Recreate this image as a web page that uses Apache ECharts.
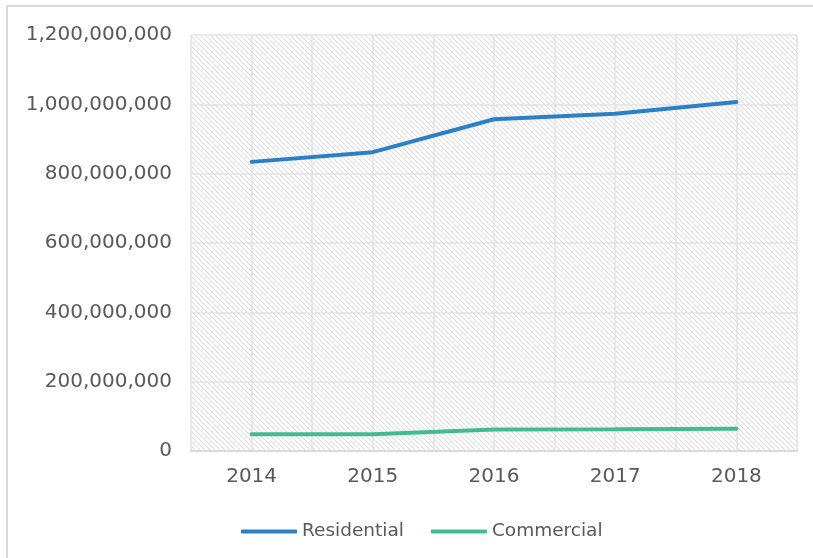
<!DOCTYPE html>
<html>
<head>
<meta charset="utf-8">
<script src="https://cdn.jsdelivr.net/npm/echarts@6/dist/echarts.min.js"></script>
<style>
  html, body { margin: 0; padding: 0; background: #fff; }
  #chart { width: 813px; height: 558px; }
</style>
</head>
<body>
<div id="chart"></div>
<script>
const years = ['2014', '2015', '2016', '2017', '2018']
const residential = [834000000, 862000000, 957000000, 973000000, 1007000000]
const commercial = [48000000, 48000000, 62000000, 62500000, 64000000]

const fontFamily = '"DejaVu Sans", sans-serif'
const textColor = '#595959'

// diagonal hatch for the plot background
function makeHatch() {
  const s = 5
  const c = document.createElement('canvas')
  c.width = s
  c.height = s
  const ctx = c.getContext('2d')
  ctx.fillStyle = '#ffffff'
  ctx.fillRect(0, 0, s, s)
  ctx.strokeStyle = '#dedede'
  ctx.lineWidth = 1.1
  for (let k = -1; k <= 1; k++) {
    ctx.beginPath()
    ctx.moveTo(k * s, 0)
    ctx.lineTo(k * s + s, s)
    ctx.stroke()
  }
  return c
}

const chart = echarts.init(document.getElementById('chart'))

chart.setOption({
  animation: false,
  graphic: [{
    type: 'rect',
    shape: { x: 7, y: 6, width: 830, height: 580 },
    style: { fill: 'none', stroke: '#d9d9d9', lineWidth: 2 },
    silent: true,
    z: -10
  }],
  grid: {
    left: 191,
    right: 16,
    top: 35,
    bottom: 107,
    show: true,
    borderWidth: 0,
    backgroundColor: { image: makeHatch(), repeat: 'repeat' }
  },
  legend: {
    left: 236,
    top: 517,
    icon: 'roundRect',
    itemWidth: 56,
    itemHeight: 4,
    itemGap: 27,
    textStyle: {
      fontFamily: fontFamily,
      fontSize: 18.5,
      color: textColor
    },
    data: ['Residential', 'Commercial']
  },
  xAxis: [
    {
      type: 'category',
      data: years,
      boundaryGap: true,
      axisLine: { lineStyle: { color: '#d9d9d9', width: 2 } },
      axisTick: { show: false },
      splitLine: { show: false },
      axisLabel: {
        margin: 16,
        fontFamily: fontFamily,
        fontSize: 20,
        color: textColor
      }
    },
    {
      type: 'value',
      min: 0,
      max: 10,
      interval: 1,
      position: 'top',
      axisLine: { show: false },
      axisTick: { show: false },
      axisLabel: { show: false },
      splitLine: { show: true, lineStyle: { color: '#e3e3e3', width: 1.5 } }
    }
  ],
  yAxis: {
    type: 'value',
    min: 0,
    max: 1200000000,
    interval: 200000000,
    axisLine: { show: false },
    axisTick: { show: false },
    splitLine: { show: true, lineStyle: { color: '#e3e3e3', width: 1.5 } },
    axisLabel: {
      margin: 19,
      fontFamily: fontFamily,
      fontSize: 20,
      color: textColor,
      formatter: v => v.toLocaleString('en-US')
    }
  },
  series: [
    {
      name: 'Residential',
      type: 'line',
      data: residential,
      symbol: 'none',
      lineStyle: { color: '#2a7fc7', width: 4, cap: 'round' },
      itemStyle: { color: '#2a7fc7' }
    },
    {
      name: 'Commercial',
      type: 'line',
      data: commercial,
      symbol: 'none',
      lineStyle: { color: '#42bb93', width: 4, cap: 'round' },
      itemStyle: { color: '#42bb93' }
    }
  ]
})
</script>
</body>
</html>
